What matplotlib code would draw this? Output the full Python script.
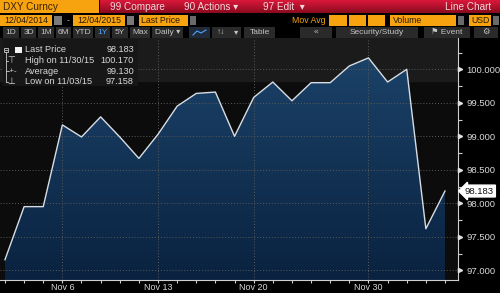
import matplotlib
matplotlib.use("Agg")
import matplotlib.pyplot as plt
import matplotlib.patches as mpatches
import matplotlib.transforms as mtransforms
import numpy as np

# ─────────────────────────────────────────────
# Data: DXY Curncy, daily last price (Nov 3 – Dec 4, 2015)
# ─────────────────────────────────────────────
dates = ["11/03", "11/04", "11/05", "11/06", "11/09", "11/10", "11/11", "11/12",
         "11/13", "11/16", "11/17", "11/18", "11/19", "11/20", "11/23", "11/24",
         "11/25", "11/26", "11/27", "11/30", "12/01", "12/02", "12/03", "12/04"]
prices = [97.158, 97.95, 97.95, 99.17, 98.99, 99.29, 98.99, 98.67,
          99.03, 99.45, 99.64, 99.66, 99.00, 99.58, 99.81, 99.53,
          99.80, 99.80, 100.05, 100.17, 99.81, 100.00, 97.62, 98.183]
tick_dates = ["11/06", "11/13", "11/20", "11/30"]
tick_labels = ["Nov 6", "Nov 13", "Nov 20", "Nov 30"]
y_ticks = [97.0, 97.5, 98.0, 98.5, 99.0, 99.5, 100.0]

legend_rows = [("Last Price", "98.183"),
               ("High on 11/30/15", "100.170"),
               ("Average", "99.130"),
               ("Low on 11/03/15", "97.158")]

COLORS = {
    "bg": "#000000",
    "plot": "#0c0c0c",
    "band": "#1b1b1b",
    "fill_top": "#1b4268",
    "fill_bot": "#0a2240",
    "line": "#d8dde3",
    "grid": "#5a5a5a",
    "text": "#d8d8d8",
    "orange": "#f7a20f",
    "red_top": "#d8173a",
    "red_bot": "#8c0b1e",
    "button": "#2a2a2a",
    "blue": "#4da3ff",
}

plt.rcParams["font.family"] = ["Liberation Sans", "DejaVu Sans"]

W, H = 500, 293
fig = plt.figure(figsize=(W / 100, H / 100), dpi=100)
fig.patch.set_facecolor(COLORS["bg"])

# ── Main chart axes (pixel box 0..458 x 38..280) ─────────────
ax = fig.add_axes([0, (H - 280) / H, 458 / W, (280 - 38) / H])
ax.set_facecolor(COLORS["plot"])
x = np.arange(len(prices))
ax.set_xlim(-0.26, len(prices) - 1 + 0.68)
ax.set_ylim(96.855, 100.467)
ax.axhspan(99.83, 100.467, color=COLORS["band"], zorder=0)

# gradient fill under the price line
fill = ax.fill_between(x, prices, 96.855, color="none", zorder=2)
grad = np.linspace(0, 1, 256).reshape(-1, 1)
cmap = matplotlib.colors.LinearSegmentedColormap.from_list(
    "fill", [COLORS["fill_top"], COLORS["fill_bot"]])
img = ax.imshow(grad, cmap=cmap, aspect="auto", origin="upper",
                extent=[x[0], x[-1], 96.855, max(prices)], zorder=2)
img.set_clip_path(fill.get_paths()[0], transform=ax.transData)
ax.plot(x, prices, color=COLORS["line"], linewidth=1.0, zorder=4)

# grid
for yv in y_ticks:
    ax.axhline(yv, color=COLORS["grid"], linestyle=(0, (1, 2)), linewidth=0.7, zorder=3)
tick_pos = [dates.index(d) for d in tick_dates]
for xv in tick_pos:
    ax.axvline(xv, color=COLORS["grid"], linestyle=(0, (1, 2)), linewidth=0.7, zorder=3)

# axes styling
for s in ["top", "left"]:
    ax.spines[s].set_visible(False)
for s in ["right", "bottom"]:
    ax.spines[s].set_color("#cfcfcf")
    ax.spines[s].set_linewidth(0.8)

ax.yaxis.tick_right()
ax.set_yticks(y_ticks)
ax.set_yticklabels([f"{v:.3f}" for v in y_ticks])
ax.set_yticks(np.arange(97.25, 100.3, 0.5), minor=True)
ax.tick_params(axis="y", which="both", colors="#cfcfcf", labelcolor=COLORS["text"],
               labelsize=6.8, length=3, width=0.8, pad=3)
ax.set_xticks(tick_pos)
ax.set_xticklabels(tick_labels)
ax.set_xticks(x, minor=True)
ax.tick_params(axis="x", which="both", colors="#cfcfcf", labelcolor=COLORS["text"],
               labelsize=6.5, length=2, width=0.8, pad=0.5)

# little arrow heads on major y ticks
arrow_tr = mtransforms.blended_transform_factory(ax.transAxes, ax.transData) + \
    mtransforms.ScaledTranslation(2 / 100, 0, fig.dpi_scale_trans)
ax.plot([1.0] * len(y_ticks), y_ticks, linestyle="none", marker=">", ms=3,
        color="#e0e0e0", transform=arrow_tr, clip_on=False, zorder=6)

# last price tag
ax.annotate(f"{prices[-1]:.3f}", xy=(1.0, prices[-1]),
            xycoords=("axes fraction", "data"), xytext=(5, 0),
            textcoords="offset points", va="center", ha="left",
            fontsize=6.8, color="#111111", annotation_clip=False,
            bbox=dict(boxstyle="larrow,pad=0.15", fc="white", ec="white"))

# ── Overlay axes in pixel coords for toolbar + legend ─────────
ov = fig.add_axes([0, 0, 1, 1], zorder=10)
ov.set_xlim(0, W)
ov.set_ylim(H, 0)
ov.axis("off")
ov.patch.set_alpha(0)


def box(x0, y0, x1, y1, color, **kw):
    ov.add_patch(mpatches.Rectangle((x0, y0), x1 - x0, y1 - y0,
                                    facecolor=color, edgecolor="none", **kw))


def label(xp, yp, s, color=COLORS["text"], size=6.8, ha="left", **kw):
    ov.text(xp, yp, s, color=color, fontsize=size, ha=ha, va="center", **kw)


# row 1: security box + red action bar
box(0, 0, 99, 13, COLORS["orange"])
label(3, 6.8, "DXY Curncy", color="#3a2400", size=7.2)
reds = matplotlib.colors.LinearSegmentedColormap.from_list(
    "red", [COLORS["red_top"], COLORS["red_bot"]])
for k in range(13):
    box(100, k, 500, k + 1, reds(k / 12))
label(110, 6.8, "99 Compare", color="#f2d6da", size=7.2)
label(184, 6.8, "90 Actions \u25be", color="#f2d6da", size=7.2)
label(263, 6.8, "97 Edit  \u25be", color="#f2d6da", size=7.2)
label(491, 6.8, "Line Chart", color="#f2d6da", size=7.2, ha="right")

# row 2: dates / fields
box(0, 15, 52, 26, COLORS["orange"])
label(26, 20.5, "12/04/2014", color="#2a1a00", size=6.3, ha="center")
box(54, 16, 62, 25, "#7a7a7a")
label(68, 20.5, "-", color="#aaaaaa", size=6.3, ha="center")
box(73, 15, 125, 26, COLORS["orange"])
label(99, 20.5, "12/04/2015", color="#2a1a00", size=6.3, ha="center")
box(127, 16, 134, 25, "#7a7a7a")
box(139, 15, 188, 26, COLORS["orange"])
label(141, 20.5, "Last Price", color="#2a1a00", size=6.3)
box(190, 16, 196, 25, "#6a6a6a")
label(325, 20.5, "Mov Avg", color=COLORS["orange"], size=6.3, ha="right")
for a, b in [(329, 347), (349, 366), (368, 385)]:
    box(a, 15, b, 26, COLORS["orange"])
box(390, 15, 456, 26, COLORS["orange"])
label(393, 20.5, "Volume", color="#2a1a00", size=6.3)
box(458, 16, 464, 25, "#6a6a6a")
box(469, 15, 491, 26, COLORS["orange"])
label(471, 20.5, "USD", color="#2a1a00", size=6.3)
box(493, 16, 499, 25, "#6a6a6a")

# row 3: period buttons / tools
buttons = [(3, 19, "1D"), (21, 36, "3D"), (38, 54, "1M"), (56, 71, "6M"),
           (73, 93, "YTD"), (95, 110, "1Y"), (112, 128, "5Y"), (130, 150, "Max"),
           (152, 183, "Daily \u25be"), (189, 210, ""), (212, 231, "\u2191\u2193"),
           (231, 241, "\u25be"), (244, 275, "Table"), (300, 332, "\u00ab"),
           (336, 418, "Security/Study"), (424, 470, "\u2691 Event"), (474, 498, "\u2699")]
for a, b, s in buttons:
    box(a, 27, b, 38, "#202a38" if a == 189 else COLORS["button"])
    col = COLORS["blue"] if s == "1Y" else "#c4c4c4"
    label((a + b) / 2, 32.5, s, color=col, size=6.0, ha="center")
ov.plot([193, 197, 201, 206], [35, 31, 33, 30], color=COLORS["blue"], linewidth=0.8)

# legend box
box(3, 39, 138, 86, "#171717", alpha=0.95)
row_y = [49.7, 60.7, 71.3, 82.0]
ov.add_patch(mpatches.Rectangle((3.5, 47.5), 4, 4, fill=False, edgecolor="#cccccc", lw=0.6))
ov.plot([4.5, 6.5], [49.5, 49.5], color="#cccccc", lw=0.6)
ov.plot([5.5, 5.5], [51.5, 82], color="#cccccc", lw=0.6)
for yy in row_y[1:]:
    ov.plot([5.5, 8], [yy, yy], color="#cccccc", lw=0.6)
box(15, 46.5, 21.5, 53, "#f2f2f2")
label(11, row_y[1], "\u22a4", size=6.5, ha="center")
label(12, row_y[2], "-+-", size=5.5, ha="center")
label(11, row_y[3], "\u22a5", size=6.5, ha="center")
for yy, (name, val) in zip(row_y, legend_rows):
    label(25, yy, name, size=6.6)
    label(134, yy, val, size=6.6, ha="right")

fig.savefig("out.png", dpi=100, facecolor=fig.get_facecolor())
